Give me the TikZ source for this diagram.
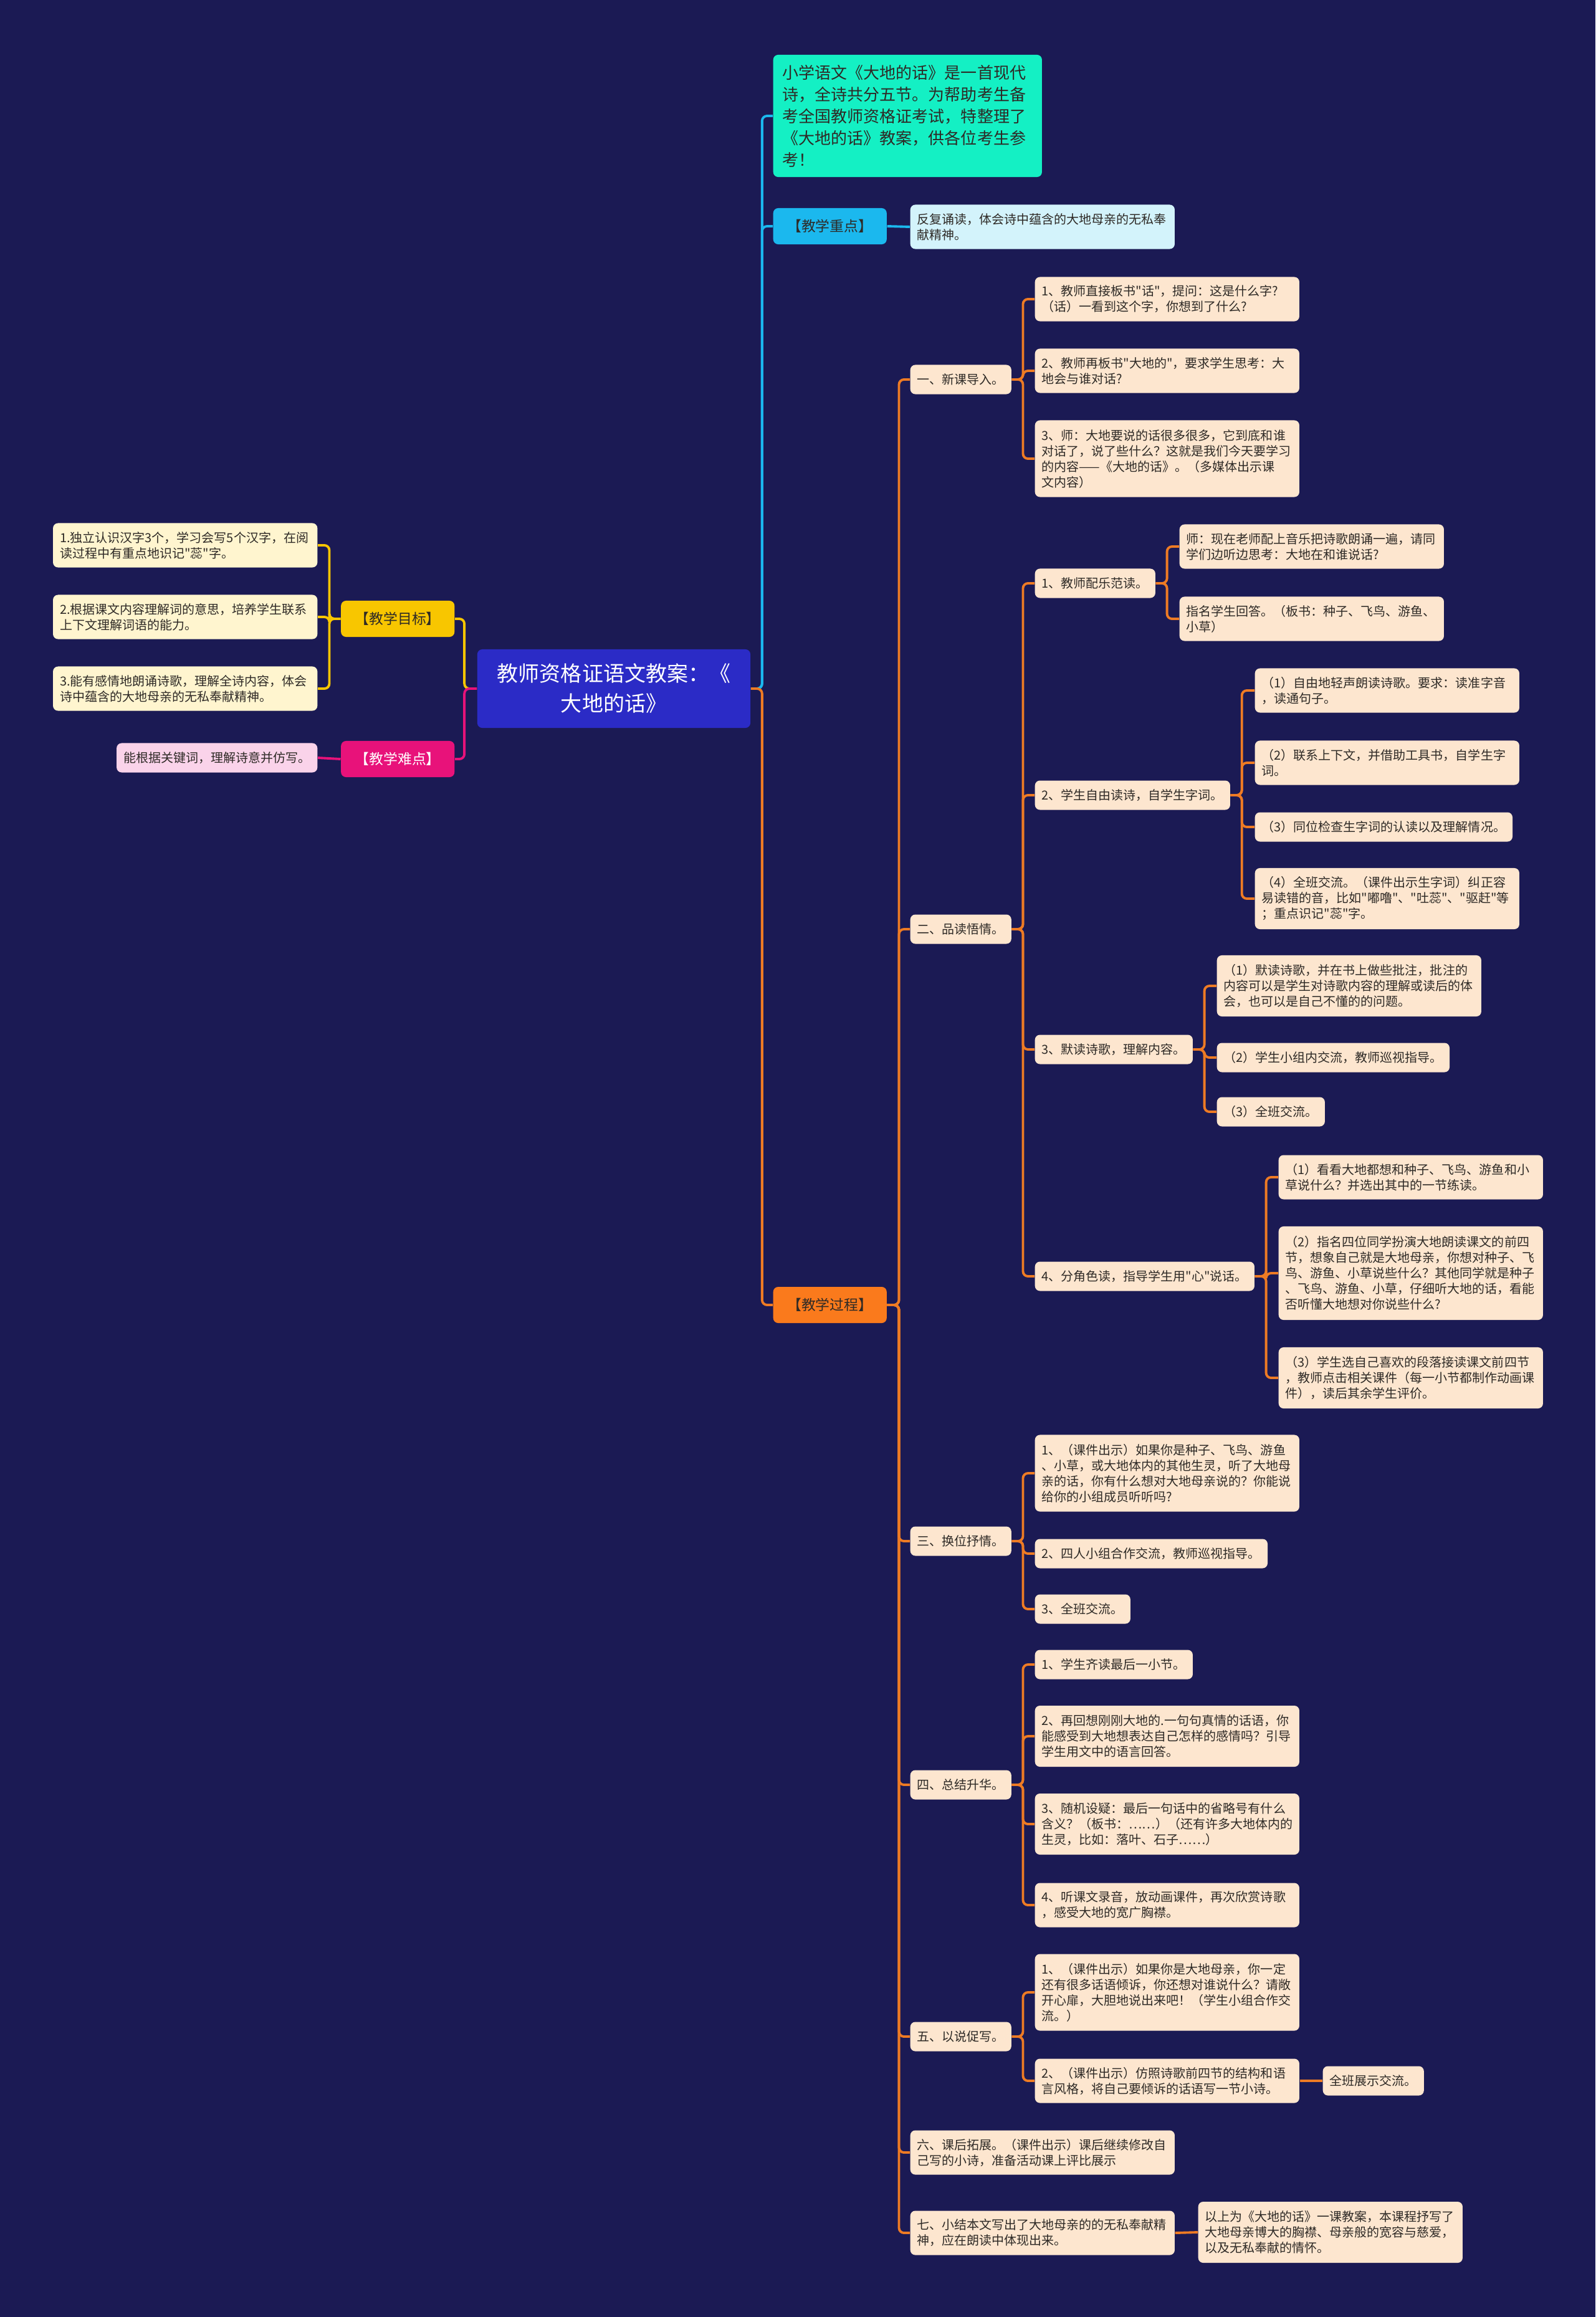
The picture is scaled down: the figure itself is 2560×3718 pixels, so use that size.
\documentclass[tikz,border=0pt]{standalone}
\usepackage{fontspec}
\newfontfamily\cjk{Noto Sans CJK SC}
\usepackage{xcolor}

\definecolor{bgc}{HTML}{1B1A54}
\definecolor{rootc}{HTML}{2B2BC6}
\definecolor{introc}{HTML}{14F0C4}
\definecolor{keyc}{HTML}{1BB8EE}
\definecolor{keyleaf}{HTML}{D3F3FB}
\definecolor{procc}{HTML}{FA7A1C}
\definecolor{procline}{HTML}{EE7B24}
\definecolor{procleaf}{HTML}{FDE6CF}
\definecolor{goalc}{HTML}{F8C600}
\definecolor{goalleaf}{HTML}{FFF5CF}
\definecolor{hardc}{HTML}{E8127A}
\definecolor{hardleaf}{HTML}{FAD3EA}
\definecolor{txtc}{HTML}{2E2A26}

\begin{document}
\begin{tikzpicture}[x=0.01cm, y=-0.01cm,
  root/.style={fill=rootc, rounded corners=0.08cm, text=white, align=center,
    minimum width=4.38cm, minimum height=1.26cm, font=\cjk\fontsize{9.67}{13.66}\selectfont},
  branch/.style={rounded corners=0.08cm, minimum width=1.82cm, minimum height=0.58cm,
    inner xsep=0pt, text=txtc, font=\cjk\fontsize{6.5}{8}\selectfont},
  leaf/.style={fill=procleaf, rounded corners=0.08cm, inner xsep=0.11cm, inner ysep=0.03cm,
    align=left, anchor=west, text=txtc, font=\cjk\fontsize{5.69}{7.11}\selectfont},
  wide/.style={text width=4.02cm},
  l1/.style={minimum height=0.47cm},
  l2/.style={minimum height=0.71cm},
  l3/.style={minimum height=0.98cm},
  l4/.style={minimum height=1.23cm},
  l5/.style={minimum height=1.50cm},
  link/.style={line width=1.1pt, rounded corners=0.08cm}
]

% background
\fill[bgc] (0,0) rectangle (2560,3718);

% centre
\node[root] (root) at (985,1105) {教师资格证语文教案：《\\大地的话》};

% right, top
\node[leaf, fill=introc, text width=4.01cm, inner xsep=0.15cm, minimum height=1.96cm,
  font=\cjk\fontsize{7.4}{9.96}\selectfont] (intro) at (1240,186)
  {小学语文《大地的话》是一首现代\\诗，全诗共分五节。为帮助考生备\\考全国教师资格证考试，特整理了\\《大地的话》教案，供各位考生参\\考！};
\node[branch, fill=keyc, anchor=west] (key) at (1240,363) {【教学重点】};
\node[leaf, wide, l2, fill=keyleaf] (keytxt) at (1460,364) {反复诵读，体会诗中蕴含的大地母亲的无私奉\\献精神。};

% left
\node[branch, fill=goalc, anchor=east] (goal) at (730,993) {【教学目标】};
\node[branch, fill=hardc, text=white, anchor=east] (hard) at (730,1218) {【教学难点】};
\node[leaf, wide, l2, fill=goalleaf, anchor=east] (g1) at (510,875) {1.独立认识汉字3个，学习会写5个汉字，在阅\\读过程中有重点地识记"蕊"字。};
\node[leaf, wide, l2, fill=goalleaf, anchor=east] (g2) at (510,990) {2.根据课文内容理解词的意思，培养学生联系\\上下文理解词语的能力。};
\node[leaf, wide, l2, fill=goalleaf, anchor=east] (g3) at (510,1105) {3.能有感情地朗诵诗歌，理解全诗内容，体会\\诗中蕴含的大地母亲的无私奉献精神。};
\node[leaf, l1, fill=hardleaf, anchor=east] (h1) at (510,1216) {能根据关键词，理解诗意并仿写。};

% right, teaching process
\node[branch, fill=procc, anchor=west] (proc) at (1240,2094) {【教学过程】};

\node[leaf, l1] (p1) at (1460,609) {一、新课导入。};
\node[leaf, wide, l2] (p1a) at (1660,480) {1、教师直接板书"话"，提问：这是什么字?\\（话）一看到这个字，你想到了什么?};
\node[leaf, wide, l2] (p1b) at (1660,595) {2、教师再板书"大地的"，要求学生思考：大\\地会与谁对话?};
\node[leaf, wide, l4] (p1c) at (1660,736) {3、师：大地要说的话很多很多，它到底和谁\\对话了，说了些什么？这就是我们今天要学习\\的内容——《大地的话》。（多媒体出示课\\文内容）};

\node[leaf, l1] (p2) at (1460,1491) {二、品读悟情。};
\node[leaf, l1] (p2a) at (1660,936) {1、教师配乐范读。};
\node[leaf, wide, l2] (p2a1) at (1892,877) {师：现在老师配上音乐把诗歌朗诵一遍，请同\\学们边听边思考：大地在和谁说话?};
\node[leaf, wide, l2] (p2a2) at (1892,993) {指名学生回答。（板书：种子、飞鸟、游鱼、\\小草）};
\node[leaf, l1] (p2b) at (1660,1276) {2、学生自由读诗，自学生字词。};
\node[leaf, wide, l2] (p2b1) at (2013,1108) {（1）自由地轻声朗读诗歌。要求：读准字音\\，读通句子。};
\node[leaf, wide, l2] (p2b2) at (2013,1224) {（2）联系上下文，并借助工具书，自学生字\\词。};
\node[leaf, l1] (p2b3) at (2013,1327) {（3）同位检查生字词的认读以及理解情况。};
\node[leaf, wide, l3] (p2b4) at (2013,1442) {（4）全班交流。（课件出示生字词）纠正容\\易读错的音，比如"嘟噜"、"吐蕊"、"驱赶"等\\；重点识记"蕊"字。};
\node[leaf, l1] (p2c) at (1660,1684) {3、默读诗歌，理解内容。};
\node[leaf, wide, l3] (p2c1) at (1952,1582) {（1）默读诗歌，并在书上做些批注，批注的\\内容可以是学生对诗歌内容的理解或读后的体\\会，也可以是自己不懂的的问题。};
\node[leaf, l1] (p2c2) at (1952,1697) {（2）学生小组内交流，教师巡视指导。};
\node[leaf, l1] (p2c3) at (1952,1784) {（3）全班交流。};
\node[leaf, l1] (p2d) at (1660,2048) {4、分角色读，指导学生用"心"说话。};
\node[leaf, wide, l2] (p2d1) at (2051,1889) {（1）看看大地都想和种子、飞鸟、游鱼和小\\草说什么？并选出其中的一节练读。};
\node[leaf, wide, l5] (p2d2) at (2051,2043) {（2）指名四位同学扮演大地朗读课文的前四\\节，想象自己就是大地母亲，你想对种子、飞\\鸟、游鱼、小草说些什么？其他同学就是种子\\、飞鸟、游鱼、小草，仔细听大地的话，看能\\否听懂大地想对你说些什么?};
\node[leaf, wide, l3] (p2d3) at (2051,2211) {（3）学生选自己喜欢的段落接读课文前四节\\，教师点击相关课件（每一小节都制作动画课\\件），读后其余学生评价。};

\node[leaf, l1] (p3) at (1460,2473) {三、换位抒情。};
\node[leaf, wide, l4] (p3a) at (1660,2364) {1、（课件出示）如果你是种子、飞鸟、游鱼\\、小草，或大地体内的其他生灵，听了大地母\\亲的话，你有什么想对大地母亲说的？你能说\\给你的小组成员听听吗?};
\node[leaf, l1] (p3b) at (1660,2493) {2、四人小组合作交流，教师巡视指导。};
\node[leaf, l1] (p3c) at (1660,2582) {3、全班交流。};

\node[leaf, l1] (p4) at (1460,2864) {四、总结升华。};
\node[leaf, l1] (p4a) at (1660,2671) {1、学生齐读最后一小节。};
\node[leaf, wide, l3] (p4b) at (1660,2786) {2、再回想刚刚大地的.一句句真情的话语，你\\能感受到大地想表达自己怎样的感情吗？引导\\学生用文中的语言回答。};
\node[leaf, wide, l3] (p4c) at (1660,2927) {3、随机设疑：最后一句话中的省略号有什么\\含义？（板书：……）（还有许多大地体内的\\生灵，比如：落叶、石子……）};
\node[leaf, wide, l2] (p4d) at (1660,3057) {4、听课文录音，放动画课件，再次欣赏诗歌\\，感受大地的宽广胸襟。};

\node[leaf, l1] (p5) at (1460,3268) {五、以说促写。};
\node[leaf, wide, l4] (p5a) at (1660,3197) {1、（课件出示）如果你是大地母亲，你一定\\还有很多话语倾诉，你还想对谁说什么？请敞\\开心扉，大胆地说出来吧！（学生小组合作交\\流。）};
\node[leaf, wide, l2] (p5b) at (1660,3339) {2、（课件出示）仿照诗歌前四节的结构和语\\言风格，将自己要倾诉的话语写一节小诗。};
\node[leaf, l1] (p5b1) at (2122,3339) {全班展示交流。};

\node[leaf, wide, l2] (p6) at (1460,3454) {六、课后拓展。（课件出示）课后继续修改自\\己写的小诗，准备活动课上评比展示};
\node[leaf, wide, l2] (p7) at (1460,3583) {七、小结本文写出了大地母亲的的无私奉献精\\神，应在朗读中体现出来。};
\node[leaf, wide, l3] (p7a) at (1922,3582) {以上为《大地的话》一课教案，本课程抒写了\\大地母亲博大的胸襟、母亲般的宽容与慈爱，\\以及无私奉献的情怀。};

% links, right
\draw[link, keyc] (root.east) -- ++(18,0) |- (intro.west);
\draw[link, keyc] (root.east) -- ++(18,0) |- (key.west);
\draw[link, keyc] (key.east) -- (keytxt.west);
\draw[link, procline] (root.east) -- ++(18,0) |- (proc.west);

% links, left
\draw[link, goalc] (root.west) -- ++(-20,0) |- (goal.east);
\draw[link, hardc] (root.west) -- ++(-20,0) |- (hard.east);
\draw[link, goalc] (goal.west) -- ++(-18,0) |- (g1.east);
\draw[link, goalc] (goal.west) -- ++(-18,0) |- (g2.east);
\draw[link, goalc] (goal.west) -- ++(-18,0) |- (g3.east);
\draw[link, hardc] (hard.west) -- (h1.east);

% links, teaching process
\draw[link, procline] (proc.east) -- ++(19,0) |- (p1.west);
\draw[link, procline] (proc.east) -- ++(19,0) |- (p2.west);
\draw[link, procline] (proc.east) -- ++(19,0) |- (p3.west);
\draw[link, procline] (proc.east) -- ++(19,0) |- (p4.west);
\draw[link, procline] (proc.east) -- ++(19,0) |- (p5.west);
\draw[link, procline] (proc.east) -- ++(19,0) |- (p6.west);
\draw[link, procline] (proc.east) -- ++(19,0) |- (p7.west);

\draw[link, procline] (p1.east) -- ++(18,0) |- (p1a.west);
\draw[link, procline] (p1.east) -- ++(18,0) |- (p1b.west);
\draw[link, procline] (p1.east) -- ++(18,0) |- (p1c.west);

\draw[link, procline] (p2.east) -- ++(18,0) |- (p2a.west);
\draw[link, procline] (p2.east) -- ++(18,0) |- (p2b.west);
\draw[link, procline] (p2.east) -- ++(18,0) |- (p2c.west);
\draw[link, procline] (p2.east) -- ++(18,0) |- (p2d.west);
\draw[link, procline] (p2a.east) -- ++(18,0) |- (p2a1.west);
\draw[link, procline] (p2a.east) -- ++(18,0) |- (p2a2.west);
\draw[link, procline] (p2b.east) -- ++(18,0) |- (p2b1.west);
\draw[link, procline] (p2b.east) -- ++(18,0) |- (p2b2.west);
\draw[link, procline] (p2b.east) -- ++(18,0) |- (p2b3.west);
\draw[link, procline] (p2b.east) -- ++(18,0) |- (p2b4.west);
\draw[link, procline] (p2c.east) -- ++(18,0) |- (p2c1.west);
\draw[link, procline] (p2c.east) -- ++(18,0) |- (p2c2.west);
\draw[link, procline] (p2c.east) -- ++(18,0) |- (p2c3.west);
\draw[link, procline] (p2d.east) -- ++(18,0) |- (p2d1.west);
\draw[link, procline] (p2d.east) -- ++(18,0) |- (p2d2.west);
\draw[link, procline] (p2d.east) -- ++(18,0) |- (p2d3.west);

\draw[link, procline] (p3.east) -- ++(18,0) |- (p3a.west);
\draw[link, procline] (p3.east) -- ++(18,0) |- (p3b.west);
\draw[link, procline] (p3.east) -- ++(18,0) |- (p3c.west);

\draw[link, procline] (p4.east) -- ++(18,0) |- (p4a.west);
\draw[link, procline] (p4.east) -- ++(18,0) |- (p4b.west);
\draw[link, procline] (p4.east) -- ++(18,0) |- (p4c.west);
\draw[link, procline] (p4.east) -- ++(18,0) |- (p4d.west);

\draw[link, procline] (p5.east) -- ++(18,0) |- (p5a.west);
\draw[link, procline] (p5.east) -- ++(18,0) |- (p5b.west);
\draw[link, procline] (p5b.east) -- (p5b1.west);

\draw[link, procline] (p7.east) -- (p7a.west);

\end{tikzpicture}
\end{document}
